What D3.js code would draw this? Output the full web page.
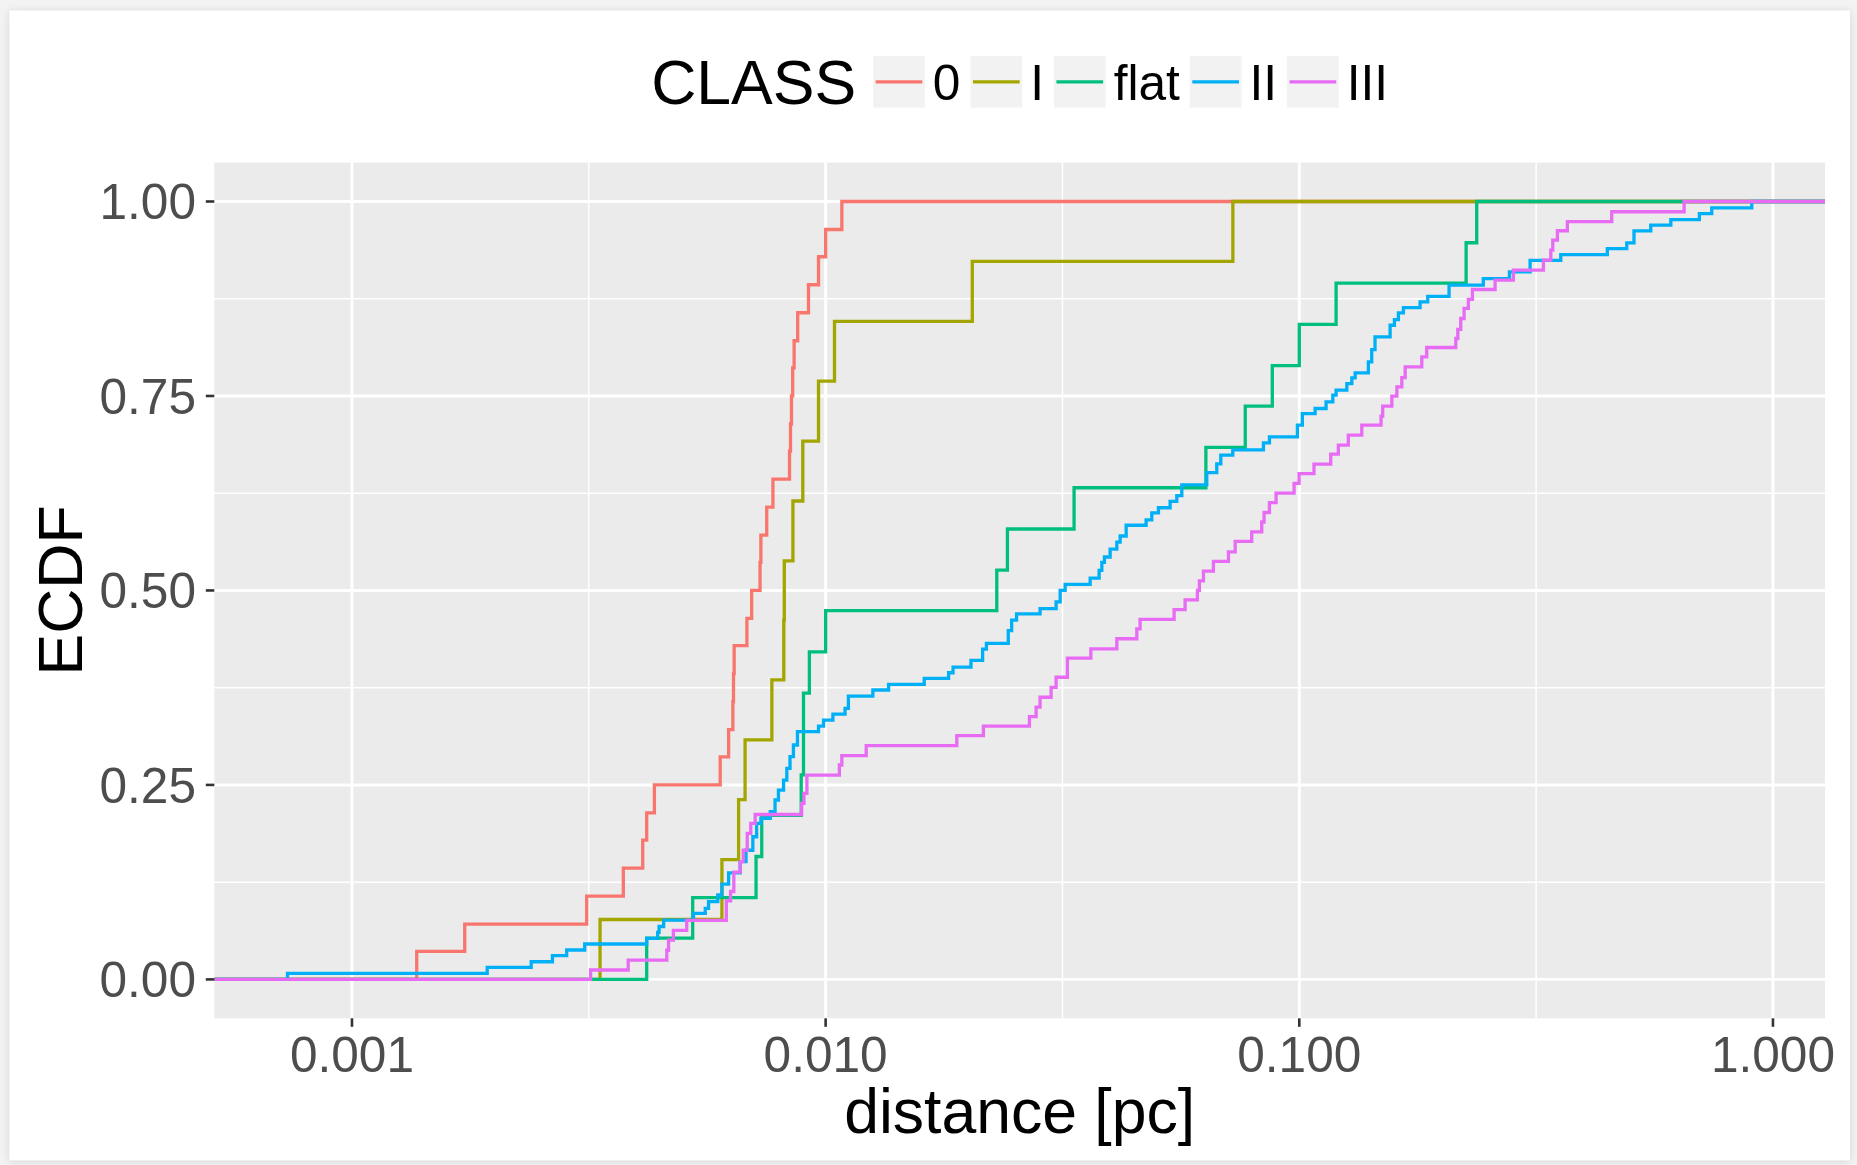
<!DOCTYPE html>
<html>
<head>
<meta charset="utf-8">
<script src="https://cdn.jsdelivr.net/npm/d3@7/dist/d3.min.js"></script>
<style>
  html, body { margin: 0; padding: 0; background: #f3f3f3; }
  svg { display: block; }
  text { font-family: "Liberation Sans", Arial, Helvetica, sans-serif; }
</style>
</head>
<body>
<svg id="chart" width="1857" height="1165"></svg>
<script>
// ---------------- DATA ----------------
const classes = ["0", "I", "flat", "II", "III"];
const colors  = ["#F8766D", "#A3A500", "#00BF7D", "#00B0F6", "#E76BF3"];

// ECDF step corners: [distance (pc), ECDF value after the step]
const ecdf0 = [
  [0.00137,0.036],[0.00173,0.071],[0.00313,0.107],[0.00374,0.143],[0.00411,0.179],
  [0.00419,0.214],[0.00435,0.250],[0.00599,0.286],[0.00624,0.321],[0.00637,0.357],
  [0.00639,0.393],[0.00641,0.429],[0.00682,0.464],[0.00698,0.500],[0.00727,0.536],
  [0.00730,0.571],[0.00751,0.607],[0.00774,0.643],[0.00839,0.679],[0.00843,0.714],
  [0.00847,0.750],[0.00852,0.786],[0.00858,0.821],[0.00873,0.857],[0.00920,0.893],
  [0.00966,0.929],[0.01000,0.964],[0.01082,1.000]
];
const ecdfI = [
  [0.00334,0.077],[0.00604,0.154],[0.00655,0.231],[0.00676,0.308],[0.00770,0.385],
  [0.00816,0.462],[0.00818,0.538],[0.00853,0.615],[0.00895,0.692],[0.00966,0.769],
  [0.01044,0.846],[0.02040,0.923],[0.07240,1.000]
];
const ecdfFlat = [
  [0.00419,0.053],[0.00524,0.105],[0.00713,0.158],[0.00733,0.211],[0.00888,0.263],
  [0.00898,0.316],[0.00898,0.368],[0.00924,0.421],[0.01000,0.474],[0.02298,0.526],
  [0.02420,0.579],[0.03346,0.632],[0.06350,0.684],[0.07690,0.737],[0.08770,0.789],
  [0.10000,0.842],[0.11960,0.895],[0.22500,0.947],[0.23690,1.000]
];
const ecdfII = [
  [0.000731,0.0078],[0.00193,0.0155],[0.00239,0.0227],[0.00265,0.0305],[0.00284,0.0378],
  [0.00310,0.0455],[0.00419,0.0527],[0.00442,0.0605],[0.00445,0.0680],[0.00455,0.0763],
  [0.00526,0.0850],[0.00557,0.0913],[0.00566,0.0999],[0.00592,0.1085],[0.00604,0.1226],
  [0.00624,0.1370],[0.00660,0.1513],[0.00679,0.1660],[0.00702,0.1834],[0.00715,0.2005],
  [0.00730,0.2070],[0.00764,0.2155],[0.00782,0.2306],[0.00795,0.2434],[0.00815,0.2563],
  [0.00828,0.2713],[0.00841,0.2863],[0.00855,0.3013],[0.00872,0.3185],[0.00966,0.3257],
  [0.00990,0.3334],[0.01036,0.3411],[0.01099,0.3484],[0.01117,0.3642],[0.01258,0.3720],
  [0.01358,0.3792],[0.01615,0.3870],[0.01818,0.3942],[0.01858,0.4015],[0.02027,0.4100],
  [0.02145,0.4245],[0.02185,0.4320],[0.02430,0.4483],[0.02470,0.4618],[0.02530,0.4700],
  [0.02836,0.4767],[0.03066,0.4853],[0.03127,0.5000],[0.03204,0.5077],[0.03618,0.5158],
  [0.03779,0.5257],[0.03829,0.5360],[0.03878,0.5430],[0.03987,0.5530],[0.04119,0.5620],
  [0.04186,0.5700],[0.04310,0.5838],[0.04749,0.5906],[0.04882,0.5996],[0.05042,0.6063],
  [0.05337,0.6144],[0.05513,0.6220],[0.05649,0.6356],[0.06378,0.6514],[0.06695,0.6627],
  [0.06828,0.6740],[0.07237,0.6808],[0.08400,0.6898],[0.08649,0.6975],[0.09909,0.7124],
  [0.10150,0.7273],[0.10800,0.7339],[0.11390,0.7425],[0.11770,0.7510],[0.11960,0.7574],
  [0.12600,0.7660],[0.12910,0.7733],[0.13120,0.7797],[0.13990,0.7939],[0.14220,0.8097],
  [0.14450,0.8259],[0.15550,0.8409],[0.15880,0.8482],[0.16190,0.8568],[0.16590,0.8636],
  [0.17990,0.8709],[0.18670,0.8781],[0.20710,0.8924],[0.24460,0.9009],[0.27770,0.9094],
  [0.30710,0.9244],[0.35650,0.9317],[0.44700,0.9394],[0.49130,0.9467],[0.50890,0.9622],
  [0.55210,0.9695],[0.60870,0.9768],[0.69930,0.9845],[0.74270,0.9918],[0.90220,1.0000]
];
const ecdfIII = [
  [0.00319,0.0121],[0.00383,0.0249],[0.00462,0.0375],[0.00466,0.0506],[0.00477,0.0630],
  [0.00509,0.0760],[0.00617,0.1010],[0.00630,0.1130],[0.00640,0.1380],[0.00660,0.1513],
  [0.00670,0.1660],[0.00683,0.1876],[0.00695,0.2005],[0.00710,0.2120],[0.00890,0.2262],
  [0.00900,0.2391],[0.00913,0.2627],[0.01069,0.2756],[0.01082,0.2876],[0.01218,0.3004],
  [0.01892,0.3133],[0.02153,0.3256],[0.02693,0.3378],[0.02782,0.3500],[0.02836,0.3627],
  [0.02992,0.3753],[0.03066,0.3884],[0.03239,0.4131],[0.03630,0.4248],[0.04119,0.4379],
  [0.04539,0.4505],[0.04612,0.4627],[0.05441,0.4753],[0.05740,0.4879],[0.06094,0.5000],
  [0.06153,0.5122],[0.06275,0.5248],[0.06587,0.5375],[0.07087,0.5497],[0.07322,0.5632],
  [0.07936,0.5754],[0.08331,0.5880],[0.08426,0.6002],[0.08649,0.6129],[0.08933,0.6250],
  [0.09750,0.6376],[0.09990,0.6502],[0.10740,0.6624],[0.11650,0.6753],[0.12090,0.6868],
  [0.12690,0.6997],[0.13550,0.7125],[0.14880,0.7241],[0.15000,0.7369],[0.15680,0.7497],
  [0.16070,0.7617],[0.16460,0.7737],[0.16730,0.7874],[0.18140,0.8003],[0.18580,0.8123],
  [0.21400,0.8239],[0.21610,0.8355],[0.21920,0.8496],[0.22280,0.8625],[0.22750,0.8741],
  [0.23200,0.8869],[0.25900,0.8989],[0.28310,0.9118],[0.32760,0.9246],[0.33960,0.9375],
  [0.34290,0.9504],[0.35070,0.9624],[0.36810,0.9740],[0.45670,0.9868],[0.64930,1.0000]
];
const seriesData = [ecdf0, ecdfI, ecdfFlat, ecdfII, ecdfIII];

const xTicks = [0.001, 0.01, 0.1, 1];
const xTickLabels = ["0.001", "0.010", "0.100", "1.000"];
const xMinor = [0.001 * Math.sqrt(10), 0.01 * Math.sqrt(10), 0.1 * Math.sqrt(10)];
const yTicks = [0, 0.25, 0.5, 0.75, 1];
const yTickLabels = ["0.00", "0.25", "0.50", "0.75", "1.00"];
const yMinor = [0.125, 0.375, 0.625, 0.875];
const xTitle = "distance [pc]";
const yTitle = "ECDF";
const legendTitle = "CLASS";

// ---------------- LAYOUT ----------------
const W = 1857, H = 1165;
const P = { left: 214.3, right: 1825, top: 162.6, bottom: 1018.3 };
const baseFont = 62.5, smallFont = 49.6;
const lineW = 3.3;

const svg = d3.select("#chart");

// card background with shadow
const defs = svg.append("defs");
const f = defs.append("filter").attr("id", "shadow").attr("x", "-5%").attr("y", "-5%").attr("width", "110%").attr("height", "110%");
f.append("feDropShadow").attr("dx", 0).attr("dy", 1).attr("stdDeviation", 4).attr("flood-color", "#000").attr("flood-opacity", 0.13);
svg.append("rect").attr("x", 0).attr("y", 0).attr("width", W).attr("height", H).attr("fill", "#f3f3f3");
svg.append("rect").attr("x", 9.5).attr("y", 10.7).attr("width", 1840.5).attr("height", 1149.5)
  .attr("fill", "#ffffff").attr("filter", "url(#shadow)");

// scales (ggplot-like 5% expansion on log scale)
const allX = seriesData.flat().map(d => d[0]);
const lmin = Math.log10(d3.min(allX)), lmax = Math.log10(d3.max(allX));
const ex = (lmax - lmin) * 0.05;
const x = d3.scaleLog().domain([Math.pow(10, lmin - ex), Math.pow(10, lmax + ex)]).range([P.left, P.right]);
const y = d3.scaleLinear().domain([-0.05, 1.05]).range([P.bottom, P.top]);

// panel
svg.append("rect").attr("x", P.left).attr("y", P.top)
  .attr("width", P.right - P.left).attr("height", P.bottom - P.top).attr("fill", "#EBEBEB");

const grid = svg.append("g");
// minor grid
grid.selectAll(".xmin").data(xMinor).enter().append("line")
  .attr("x1", d => x(d)).attr("x2", d => x(d)).attr("y1", P.top).attr("y2", P.bottom)
  .attr("stroke", "#fff").attr("stroke-width", 1.5);
grid.selectAll(".ymin").data(yMinor).enter().append("line")
  .attr("y1", d => y(d)).attr("y2", d => y(d)).attr("x1", P.left).attr("x2", P.right)
  .attr("stroke", "#fff").attr("stroke-width", 1.5);
// major grid
grid.selectAll(".xmaj").data(xTicks).enter().append("line")
  .attr("x1", d => x(d)).attr("x2", d => x(d)).attr("y1", P.top).attr("y2", P.bottom)
  .attr("stroke", "#fff").attr("stroke-width", 2.9);
grid.selectAll(".ymaj").data(yTicks).enter().append("line")
  .attr("y1", d => y(d)).attr("y2", d => y(d)).attr("x1", P.left).attr("x2", P.right)
  .attr("stroke", "#fff").attr("stroke-width", 2.9);

// clip
defs.append("clipPath").attr("id", "clip").append("rect")
  .attr("x", P.left).attr("y", P.top).attr("width", P.right - P.left).attr("height", P.bottom - P.top);

// ECDF step lines
const line = d3.line().x(d => x(d[0])).y(d => y(d[1])).curve(d3.curveStepAfter);
const dom = x.domain();
const lines = svg.append("g").attr("clip-path", "url(#clip)");
seriesData.forEach((s, i) => {
  const pts = [[dom[0], 0], ...s, [dom[1], 1]];
  lines.append("path").attr("d", line(pts)).attr("fill", "none")
    .attr("stroke", colors[i]).attr("stroke-width", lineW).attr("stroke-linejoin", "miter");
});

// axes: ticks
const axisCol = "#333333", textCol = "#4D4D4D";
const xAxis = svg.append("g");
xAxis.selectAll("line").data(xTicks).enter().append("line")
  .attr("x1", d => x(d)).attr("x2", d => x(d)).attr("y1", P.bottom).attr("y2", P.bottom + 8.5)
  .attr("stroke", axisCol).attr("stroke-width", 2.6);
xAxis.selectAll("text").data(xTicks).enter().append("text")
  .attr("x", d => x(d)).attr("y", 1071.5).attr("text-anchor", "middle")
  .attr("font-size", smallFont).attr("fill", textCol).text((d, i) => xTickLabels[i]);

const yAxis = svg.append("g");
yAxis.selectAll("line").data(yTicks).enter().append("line")
  .attr("x1", P.left - 8.5).attr("x2", P.left).attr("y1", d => y(d)).attr("y2", d => y(d))
  .attr("stroke", axisCol).attr("stroke-width", 2.6);
yAxis.selectAll("text").data(yTicks).enter().append("text")
  .attr("x", 196).attr("y", d => y(d) + 18).attr("text-anchor", "end")
  .attr("font-size", smallFont).attr("fill", textCol).text((d, i) => yTickLabels[i]);

// axis titles
svg.append("text").attr("x", (P.left + P.right) / 2).attr("y", 1133)
  .attr("text-anchor", "middle").attr("font-size", baseFont).attr("fill", "#000").text(xTitle);
svg.append("text").attr("transform", `translate(82,${(P.top + P.bottom) / 2}) rotate(-90)`)
  .attr("text-anchor", "middle").attr("font-size", baseFont).attr("fill", "#000").text(yTitle);

// legend (top, horizontal, centered over panel)
const leg = svg.append("g");
const keySize = 51.7, keyCy = 81.8;
const tTitle = leg.append("text").attr("font-size", baseFont).attr("fill", "#000").text(legendTitle);
const titleW = tTitle.node().getComputedTextLength();
const labelNodes = classes.map(c => leg.append("text").attr("font-size", smallFont).attr("fill", "#000").text(c));
const labelW = labelNodes.map(n => n.node().getComputedTextLength());
const gapTitle = 17, gapKeyText = 8, gapTextKey = 10;
const total = titleW + gapTitle + classes.length * (keySize + gapKeyText) + d3.sum(labelW) + (classes.length - 1) * gapTextKey;
let cx = (P.left + P.right) / 2 - total / 2;
tTitle.attr("x", cx).attr("y", keyCy + 0.716 * baseFont / 2);
cx += titleW + gapTitle;
classes.forEach((c, i) => {
  leg.append("rect").attr("x", cx).attr("y", keyCy - keySize / 2).attr("width", keySize).attr("height", keySize).attr("fill", "#F2F2F2");
  leg.append("line").attr("x1", cx + 2.5).attr("x2", cx + keySize - 2.5).attr("y1", keyCy).attr("y2", keyCy)
    .attr("stroke", colors[i]).attr("stroke-width", lineW);
  cx += keySize + gapKeyText;
  labelNodes[i].attr("x", cx).attr("y", keyCy + 0.716 * smallFont / 2);
  cx += labelW[i] + gapTextKey;
});
</script>
</body>
</html>
